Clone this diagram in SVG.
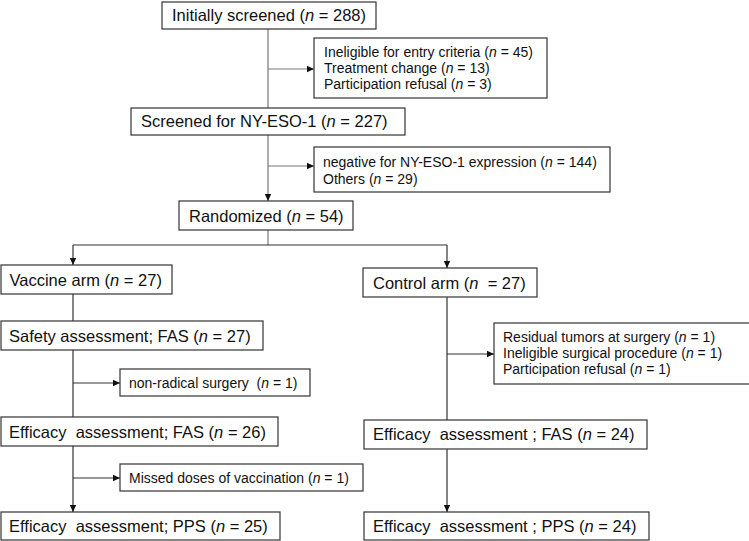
<svg xmlns="http://www.w3.org/2000/svg" width="749" height="541" viewBox="0 0 749 541">
<defs>
<marker id="ah" markerWidth="8" markerHeight="8" refX="7" refY="4" orient="auto" markerUnits="userSpaceOnUse">
<path d="M0,0.8 L7,4 L0,7.2 Z" fill="#111"/>
</marker>
<style>
rect{fill:#fff;stroke:#333;stroke-width:1.2}
text{font-family:"Liberation Sans",Arial,sans-serif;fill:#111;white-space:pre}
.m{font-size:16.5px}
.s{font-size:14px}
.c line, .c polyline{stroke:#333;stroke-width:1.2;fill:none}
.g{stroke:#777 !important}
.a{marker-end:url(#ah)}
i{font-style:italic}
</style>
</defs>
<rect x="0" y="0" width="749" height="541" style="fill:#fff;stroke:none"/>
<g class="c" id="connectors">
<line class="g" x1="268" y1="29" x2="268" y2="108"/>
<line class="a g" x1="268" y1="69" x2="314" y2="69"/>
<line class="a g" x1="268" y1="135" x2="268" y2="201"/>
<line class="a g" x1="268" y1="166" x2="314" y2="166"/>
<line class="g" x1="268" y1="230" x2="268" y2="245"/>
<line x1="73" y1="245" x2="447" y2="245"/>
<line class="a" x1="73" y1="245" x2="73" y2="265"/>
<line class="a" x1="447" y1="245" x2="447" y2="268"/>
<line x1="73" y1="294" x2="73" y2="321"/>
<line x1="73" y1="350" x2="73" y2="417"/>
<line class="a" x1="73" y1="383" x2="120" y2="383"/>
<line class="a" x1="73" y1="446" x2="73" y2="512"/>
<line class="a" x1="73" y1="478" x2="120" y2="478"/>
<line x1="447" y1="297" x2="447" y2="420"/>
<line class="a" x1="447" y1="354" x2="494" y2="354"/>
<line class="a" x1="447" y1="449" x2="447" y2="512"/>
</g>
<g id="n1"><rect x="162" y="2" width="214" height="27"/><text class="m" x="172" y="21">Initially screened (<tspan font-style="italic">n</tspan> = 288)</text></g>
<g id="x1"><rect x="314" y="38" width="233" height="60"/>
<text class="s" x="324" y="57">Ineligible for entry criteria (<tspan font-style="italic">n</tspan> = 45)</text>
<text class="s" x="324" y="73">Treatment change (<tspan font-style="italic">n</tspan> = 13)</text>
<text class="s" x="324" y="89">Participation refusal (<tspan font-style="italic">n</tspan> = 3)</text></g>
<g id="n2"><rect x="131" y="108" width="274" height="27"/><text class="m" x="141" y="127">Screened for NY-ESO-1 (<tspan font-style="italic">n</tspan> = 227)</text></g>
<g id="x2"><rect x="314" y="147" width="296" height="45"/>
<text class="s" x="323" y="167">negative for NY-ESO-1 expression (<tspan font-style="italic">n</tspan> = 144)</text>
<text class="s" x="323" y="184">Others (<tspan font-style="italic">n</tspan> = 29)</text></g>
<g id="n3"><rect x="179" y="201" width="174" height="29"/><text class="m" x="189" y="222">Randomized (<tspan font-style="italic">n</tspan> = 54)</text></g>
<g id="va"><rect x="1" y="265" width="171" height="29"/><text class="m" x="9.5" y="286">Vaccine arm (<tspan font-style="italic">n</tspan> = 27)</text></g>
<g id="ca"><rect x="363" y="268" width="174" height="29"/><text class="m" x="373" y="289">Control arm (<tspan font-style="italic">n</tspan>  = 27)</text></g>
<g id="vs"><rect x="1" y="321" width="262" height="29"/><text class="m" x="9" y="342">Safety assessment; FAS (<tspan font-style="italic">n</tspan> = 27)</text></g>
<g id="vx1"><rect x="120" y="369" width="190" height="27"/><text class="s" x="129" y="388">non-radical surgery  (<tspan font-style="italic">n</tspan> = 1)</text></g>
<g id="vf"><rect x="1" y="417" width="277" height="29"/><text class="m" x="9" y="438">Efficacy  assessment; FAS (<tspan font-style="italic">n</tspan> = 26)</text></g>
<g id="vx2"><rect x="120" y="464" width="243" height="27"/><text class="s" x="129" y="483">Missed doses of vaccination (<tspan font-style="italic">n</tspan> = 1)</text></g>
<g id="vp"><rect x="1" y="512" width="279" height="28"/><text class="m" x="9" y="532">Efficacy  assessment; PPS (<tspan font-style="italic">n</tspan> = 25)</text></g>
<g id="cx"><rect x="494" y="323" width="262" height="61"/>
<text class="s" x="503" y="342">Residual tumors at surgery (<tspan font-style="italic">n</tspan> = 1)</text>
<text class="s" x="503" y="358">Ineligible surgical procedure (<tspan font-style="italic">n</tspan> = 1)</text>
<text class="s" x="503" y="374">Participation refusal (<tspan font-style="italic">n</tspan> = 1)</text></g>
<g id="cf"><rect x="364" y="420" width="283" height="29"/><text class="m" x="373" y="440">Efficacy  assessment ; FAS (<tspan font-style="italic">n</tspan> = 24)</text></g>
<g id="cp"><rect x="364" y="512" width="285" height="28"/><text class="m" x="373" y="532">Efficacy  assessment ; PPS (<tspan font-style="italic">n</tspan> = 24)</text></g>
</svg>
